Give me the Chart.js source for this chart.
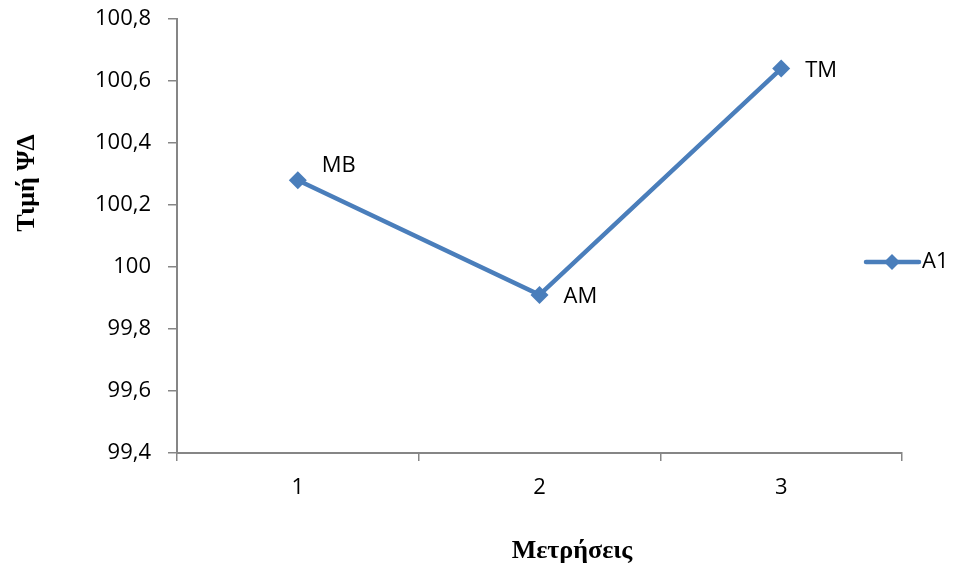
<!DOCTYPE html>
<html>
<head>
<meta charset="utf-8">
<script src="https://cdn.jsdelivr.net/npm/chart.js@4"></script>
<style>
html,body{margin:0;padding:0;background:#fff;}
#wrap{width:953px;height:571px;position:relative;}
</style>
</head>
<body>
<div id="wrap"><canvas id="c" width="953" height="571"></canvas></div>
<script>
const categories = ['1', '2', '3'];
const seriesName = 'A1';
const values = [100.28, 99.91, 100.64];
const pointLabels = ['MB', 'AM', 'TM'];
const yTicks = [99.4, 99.6, 99.8, 100, 100.2, 100.4, 100.6, 100.8];
const xTitle = 'Μετρήσεις';
const yTitle = 'Τιμή ΨΔ';

const BLUE = '#4A7EBB';
const AXIS = '#868686';
const TICKFONT = '"Open Sans", "Liberation Sans", sans-serif';
const TITLEFONT = '"Liberation Serif", "Times New Roman", serif';

const fmt = v => (Math.round(v * 10) / 10).toString().replace('.', ',');

const extras = {
  id: 'extras',
  afterDatasetsDraw(chart) {
    const ctx = chart.ctx;
    const meta = chart.getDatasetMeta(0);
    ctx.save();
    ctx.fillStyle = '#000';
    ctx.font = '22px ' + TICKFONT;
    ctx.textBaseline = 'middle';
    ctx.textAlign = 'left';
    const dy = [-14, 2, 2];
    meta.data.forEach((pt, i) => {
      ctx.fillText(pointLabels[i], pt.x + 24, pt.y + dy[i]);
    });
    ctx.restore();
  },
  afterDraw(chart) {
    const ctx = chart.ctx;
    ctx.save();
    ctx.fillStyle = '#000';
    ctx.font = 'bold 26px ' + TITLEFONT;
    ctx.textAlign = 'center';
    ctx.textBaseline = 'middle';
    ctx.fillText(xTitle, 572, 551);
    ctx.translate(27, 183);
    ctx.rotate(-Math.PI / 2);
    ctx.fillText(yTitle, 0, 0);
    ctx.restore();
    // legend
    ctx.save();
    const ly = 262;
    ctx.strokeStyle = BLUE;
    ctx.lineWidth = 4.5;
    ctx.lineCap = 'round';
    ctx.beginPath();
    ctx.moveTo(866, ly);
    ctx.lineTo(919, ly);
    ctx.stroke();
    ctx.fillStyle = BLUE;
    ctx.beginPath();
    const cx = 892, r = 8;
    ctx.moveTo(cx, ly - r); ctx.lineTo(cx + r, ly); ctx.lineTo(cx, ly + r); ctx.lineTo(cx - r, ly);
    ctx.closePath(); ctx.fill();
    ctx.fillStyle = '#000';
    ctx.font = '22px ' + TICKFONT;
    ctx.textAlign = 'left';
    ctx.textBaseline = 'middle';
    ctx.fillText(seriesName, 922, ly);
    ctx.restore();
  }
};

new Chart(document.getElementById('c'), {
  type: 'line',
  data: {
    labels: categories,
    datasets: [{
      label: seriesName,
      data: values,
      borderColor: BLUE,
      backgroundColor: BLUE,
      borderWidth: 4.5,
      pointStyle: 'rectRot',
      pointRadius: 9,
      pointHoverRadius: 9,
      pointBorderWidth: 0,
      tension: 0
    }]
  },
  options: {
    responsive: false,
    animation: false,
    events: [],
    layout: { padding: { left: 0, right: 51, top: 19, bottom: 0 } },
    plugins: { legend: { display: false }, tooltip: { enabled: false } },
    scales: {
      x: {
        offset: true,
        grid: { offset: true, drawOnChartArea: false, drawTicks: true, tickLength: 8, color: AXIS, lineWidth: 1.5 },
        border: { color: AXIS, width: 2 },
        ticks: { color: '#000', font: { family: TICKFONT, size: 22 }, padding: 14 },
        afterFit(scale) { scale.height = 118; scale.paddingLeft = 0; scale.paddingRight = 0; }
      },
      y: {
        min: 99.4,
        max: 100.8,
        afterBuildTicks(scale) { scale.ticks = yTicks.map(v => ({ value: v })); },
        grid: { drawOnChartArea: false, drawTicks: true, tickLength: 9, color: AXIS, lineWidth: 1.5 },
        border: { color: AXIS, width: 2 },
        ticks: { color: '#000', font: { family: TICKFONT, size: 22 }, padding: 17, callback: v => fmt(v) },
        afterFit(scale) { scale.width = 177; scale.paddingTop = 0; scale.paddingBottom = 0; }
      }
    }
  },
  plugins: [extras]
});
</script>
</body>
</html>
